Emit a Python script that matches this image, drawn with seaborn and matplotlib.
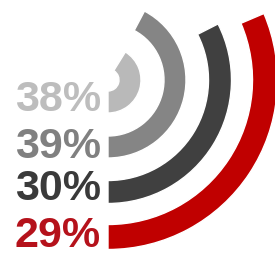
import numpy as np
import matplotlib
matplotlib.use("Agg")
import matplotlib.pyplot as plt
import seaborn as sns

# values, inner ring first
labels = ["38%", "39%", "30%", "29%"]
values = [38, 39, 30, 29]
colors = ["#b9b9b9", "#858585", "#404040", "#c00000"]
text_colors = ["#bdbdbd", "#808080", "#3a3a3a", "#b5121b"]

sns.set_theme(style="white")
plt.rcParams["font.family"] = ["Liberation Sans", "DejaVu Sans"]

W, H = 275, 259
DPI = 100
fig = plt.figure(figsize=(W / DPI, H / DPI), dpi=DPI)

# polar axes placed in pixel units so data radius == pixels
cx, cy = 108, 80
rmax = 175
ax = fig.add_axes([(cx - rmax) / W, (H - cy - rmax) / H, 2 * rmax / W, 2 * rmax / H],
                  projection="polar")
ax.set_theta_zero_location("S")
ax.set_theta_direction(1)
ax.set_rlim(0, rmax)
ax.set_axis_off()

deg_per_pct = 3.9
radii = [22, 67, 112, 157]
widths = [22, 22, 23, 25]
spans = np.deg2rad(np.array(values) * deg_per_pct)
ax.barh(radii, spans, left=0, height=widths, color=colors, align="center")

baselines = [111, 158, 200, 247]
for lab, tc, b in zip(labels, text_colors, baselines):
    fig.text(101 / W, (H - b) / H, lab, ha="right", va="baseline",
             fontsize=31, fontweight="bold", color=tc)

fig.savefig("out.png", dpi=DPI)
